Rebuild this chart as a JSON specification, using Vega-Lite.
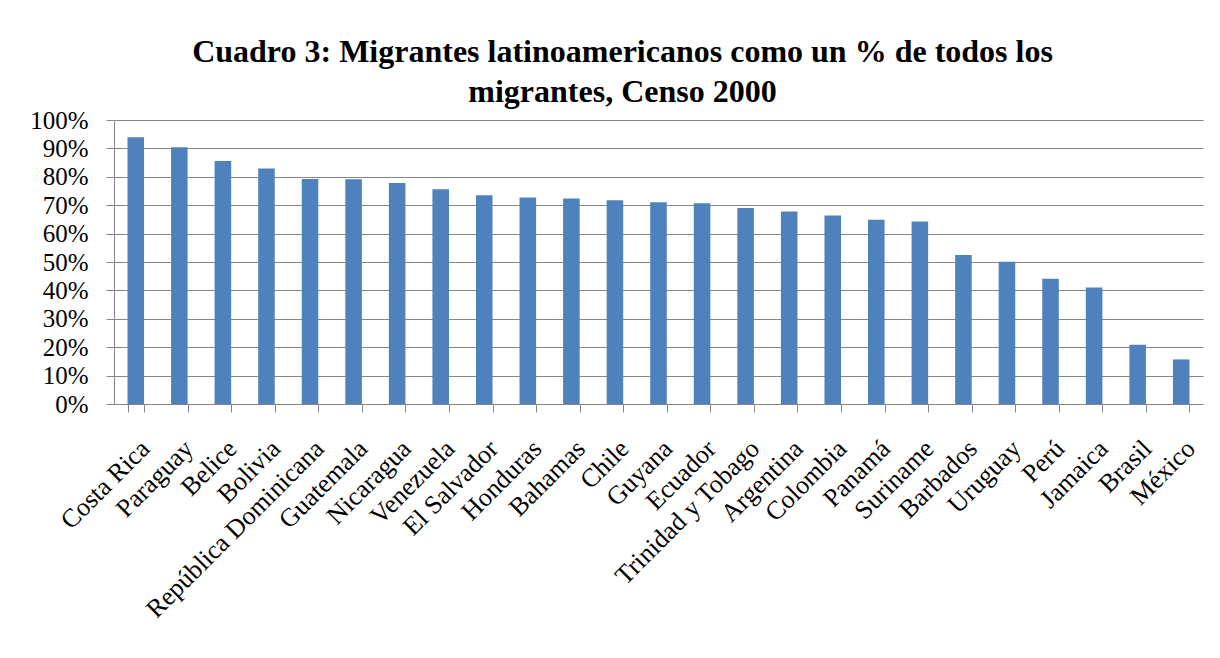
{
  "$schema": "https://vega.github.io/schema/vega-lite/v6.json",
  "width": 1089,
  "height": 284,
  "autosize": {"type": "none"},
  "padding": {"left": 114, "top": 120, "right": 17, "bottom": 254},
  "background": "white",
  "title": {
    "text": ["Cuadro 3: Migrantes latinoamericanos como un % de todos los", "migrantes, Censo 2000"],
    "font": "Liberation Serif",
    "fontSize": 32,
    "fontWeight": "bold",
    "color": "#000000",
    "lineHeight": 40,
    "anchor": "middle",
    "dx": -36,
    "offset": -1
  },
  "data": {
    "values": [
      {"pais": "Costa Rica", "pct": 0.939},
      {"pais": "Paraguay", "pct": 0.904},
      {"pais": "Belice", "pct": 0.856},
      {"pais": "Bolivia", "pct": 0.829},
      {"pais": "República Dominicana", "pct": 0.792},
      {"pais": "Guatemala", "pct": 0.791},
      {"pais": "Nicaragua", "pct": 0.778},
      {"pais": "Venezuela", "pct": 0.756},
      {"pais": "El Salvador", "pct": 0.735},
      {"pais": "Honduras", "pct": 0.727},
      {"pais": "Bahamas", "pct": 0.724},
      {"pais": "Chile", "pct": 0.717},
      {"pais": "Guyana", "pct": 0.710},
      {"pais": "Ecuador", "pct": 0.707},
      {"pais": "Trinidad y Tobago", "pct": 0.690},
      {"pais": "Argentina", "pct": 0.678},
      {"pais": "Colombia", "pct": 0.664},
      {"pais": "Panamá", "pct": 0.649},
      {"pais": "Suriname", "pct": 0.643},
      {"pais": "Barbados", "pct": 0.525},
      {"pais": "Uruguay", "pct": 0.501},
      {"pais": "Perú", "pct": 0.441},
      {"pais": "Jamaica", "pct": 0.410},
      {"pais": "Brasil", "pct": 0.209},
      {"pais": "México", "pct": 0.157}
    ]
  },
  "mark": {"type": "bar", "color": "#4F81BD"},
  "encoding": {
    "x": {
      "field": "pais",
      "type": "nominal",
      "sort": null,
      "scale": {"paddingInner": 0.62, "paddingOuter": 0.31},
      "axis": {
        "title": null,
        "labelAngle": -45,
        "labelAlign": "right",
        "labelBaseline": "top",
        "labelFont": "Liberation Serif",
        "labelFontSize": 26,
        "labelColor": "#000000",
        "labelPadding": 23,
        "labelLimit": 500,
        "labelOverlap": false,
        "tickBand": "extent",
        "tickColor": "#868686",
        "tickSize": 8,
        "domainColor": "#868686",
        "grid": false
      }
    },
    "y": {
      "field": "pct",
      "type": "quantitative",
      "scale": {"domain": [0, 1], "nice": false},
      "axis": {
        "title": null,
        "format": ".0%",
        "values": [0, 0.1, 0.2, 0.3, 0.4, 0.5, 0.6, 0.7, 0.8, 0.9, 1],
        "labelFont": "Liberation Serif",
        "labelFontSize": 25,
        "labelColor": "#000000",
        "labelPadding": 18,
        "labelOverlap": false,
        "tickColor": "#868686",
        "tickSize": 8,
        "domainColor": "#868686",
        "grid": true,
        "gridColor": "#868686",
        "gridWidth": 1.2
      }
    }
  },
  "config": {
    "view": {"stroke": null},
    "axis": {"labelFont": "Liberation Serif"}
  }
}
